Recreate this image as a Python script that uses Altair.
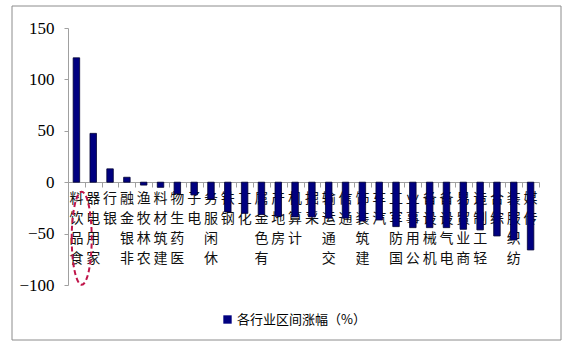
import altair as alt
import pandas as pd

categories = ["食品饮料", "家用电器", "银行", "非银金融", "农林牧渔", "建筑材料", "医药生物",
              "电子", "休闲服务", "钢铁", "化工", "有色金属", "房地产", "计算机", "采掘",
              "交通运输", "通信", "建筑装饰", "汽车", "国防军工", "公用事业", "机械设备",
              "电气设备", "商业贸易", "轻工制造", "综合", "纺织服装", "传媒"]
values = [121.0, 47.5, 13.0, 4.8, -2.8, -5.0, -11.4, -12.4, -16.4, -29.0, -30.3, -31.5,
          -33.2, -33.8, -33.8, -35.0, -35.0, -37.8, -36.8, -43.2, -44.2, -44.2, -44.2,
          -45.8, -46.4, -52.3, -56.3, -65.9]
y_ticks = [-100, -50, 0, 50, 100, 150]
series_name = "各行业区间涨幅（%）"

df = pd.DataFrame({
    "cat": categories,
    "val": values,
    "lbl": ["\n".join(reversed(list(c))) for c in categories],
    "series": [series_name] * len(categories),
})

W, H = 471, 257
cjk = "Noto Sans CJK SC"

x_enc = alt.X("cat:N", sort=categories,
              scale=alt.Scale(paddingInner=0, paddingOuter=0),
              axis=alt.Axis(title=None, labels=False, domainColor="#a0a0a0",
                            tickColor="#a0a0a0", tickSize=5, tickBand="extent",
                            offset=-103, grid=False))
y_enc = alt.Y("val:Q", scale=alt.Scale(domain=[-100, 150], nice=False, zero=False),
              axis=alt.Axis(title=None, values=y_ticks, domainColor="#a0a0a0",
                            tickColor="#a0a0a0", tickSize=4, grid=False,
                            labelFont="Liberation Sans Narrow", labelFontSize=17,
                            labelColor="#000000", labelPadding=10))

base = alt.Chart(df)

bars = base.mark_bar(size=6.5, stroke="#000033", strokeWidth=0.8).encode(
    x=x_enc, y=y_enc,
    color=alt.Color("series:N", scale=alt.Scale(range=["#000080"]),
                    legend=alt.Legend(title=None, orient="none", legendX=153, legendY=285,
                                      symbolType="square", symbolSize=70,
                                      symbolStrokeWidth=0, labelFont=cjk,
                                      labelFontSize=13, labelColor="#000000",
                                      labelOffset=3)),
)

labels = base.mark_text(baseline="top", align="center", lineBreak="\n", lineHeight=20,
                        fontSize=14, font=cjk, color="#111111", dy=10).encode(
    x=alt.X("cat:N", sort=categories),
    y=alt.datum(0),
    text="lbl:N",
)

ellipse_path = "M -0.101 0 A 0.215 1 0 1 0 0.329 0 A 0.215 1 0 1 0 -0.101 0 Z"
ellipse = alt.Chart(pd.DataFrame({"cat": ["食品饮料"], "v": [-54.5]})).mark_point(
    shape=ellipse_path, size=8649, filled=False, stroke="#c0154a", strokeWidth=2,
    strokeDash=[5, 3], opacity=1).encode(
    x=alt.X("cat:N", sort=categories),
    y=alt.Y("v:Q"),
)

border = alt.Chart(pd.DataFrame({"a": [0]})).mark_rect(
    fillOpacity=0, stroke="#8c8c8c", strokeWidth=1).encode(
    x=alt.value(-56), x2=alt.value(493), y=alt.value(-22), y2=alt.value(312))

chart = alt.layer(border, labels, bars, ellipse).properties(
    width=W, height=H,
    autosize=alt.AutoSizeParams(type="none"),
    padding={"left": 68, "top": 28, "right": 32, "bottom": 66},
    background="white",
).configure_view(stroke=None)

chart.save("out.html", embed_options={"renderer": "svg", "actions": False})
